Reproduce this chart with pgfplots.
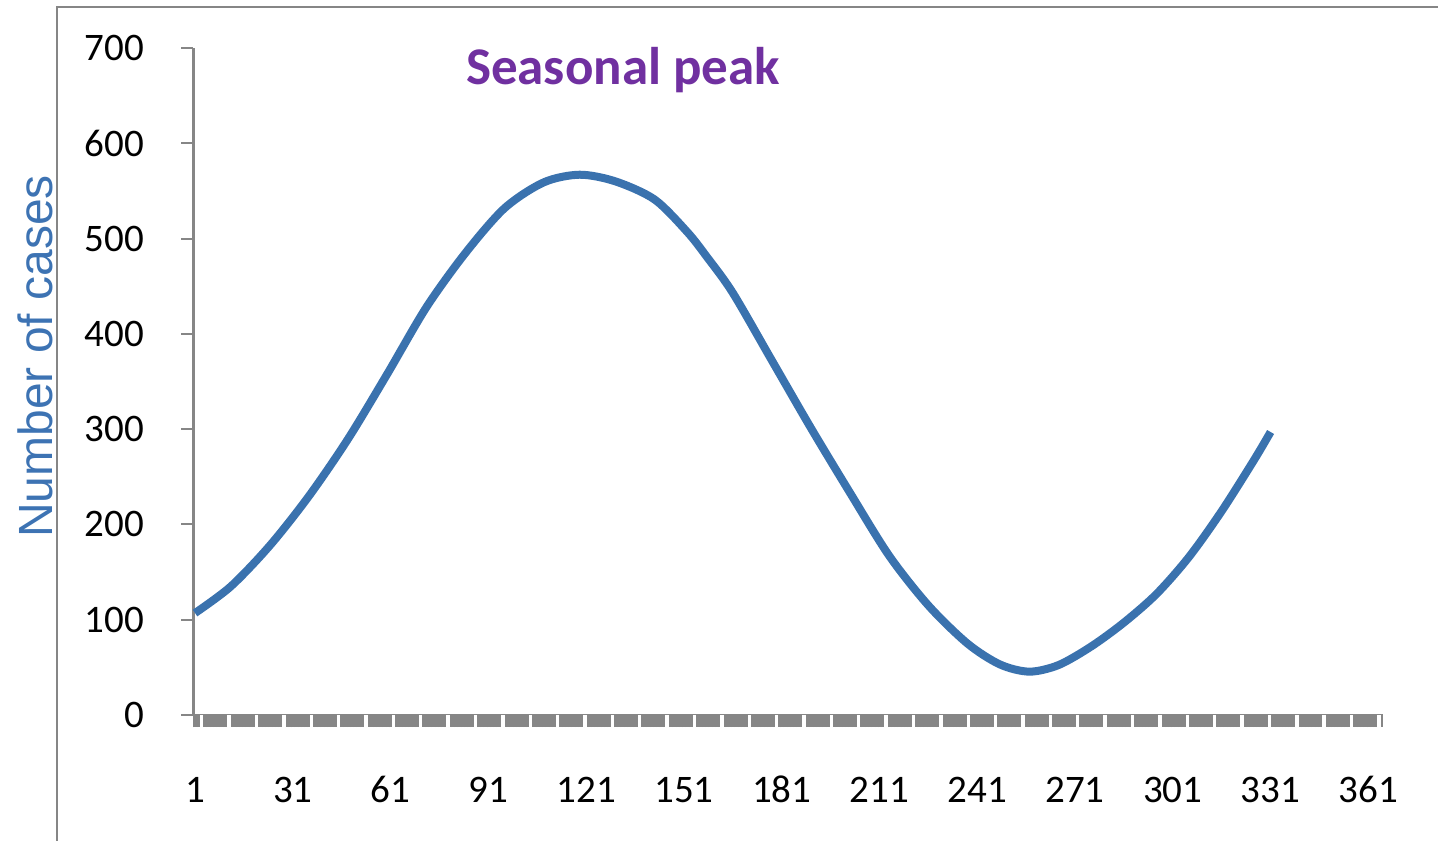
\documentclass[border=0pt]{standalone}
\usepackage{fontspec}
\setmainfont{Carlito}
\newfontfamily\arialfont{Liberation Sans}
\usepackage{pgfplots}
\pgfplotsset{compat=1.18}
\definecolor{lineblue}{HTML}{3A72AE}
\definecolor{labelblue}{HTML}{3D73B3}
\definecolor{peakpurple}{HTML}{7030A0}
\definecolor{axgray}{HTML}{868686}
\begin{document}
\begin{tikzpicture}[x=1pt,y=1pt]
\useasboundingbox (0,0) rectangle (719,420);
\draw[axgray, line width=1.35pt] (28.5,-5) -- (28.5,416.5) -- (730,416.5);
\begin{axis}[
  at={(96.7pt,62.5pt)}, anchor=south west,
  width=594.8pt, height=333.5pt, scale only axis,
  xmin=0.5, xmax=365.5, ymin=0, ymax=700,
  axis x line=bottom, axis y line=left,
  axis line style={axgray, line width=1.2pt, -},
  xtick={1,31,...,361},
  minor xtick={1,2,...,365},
  ytick={0,100,...,700},
  tick align=outside,
  major tick length=6pt,
  minor tick length=6pt,
  tick style={axgray, line width=1pt},
  every minor x tick/.append style={line width=1.7pt},
  every major x tick/.append style={line width=1.7pt},
  extra x ticks={3.05,11.45,...,365},
  extra x tick labels={},
  extra x tick style={tick style={white, line width=0.6pt}},
  /pgf/number format/assume math mode=true,
  xticklabel style={anchor=base, inner sep=0pt, yshift=-37.5pt, font=\fontsize{19.5}{19.5}\selectfont},
  yticklabel style={anchor=east, inner sep=0pt, xshift=-18.5pt, font=\fontsize{19.5}{19.5}\selectfont},
  clip=false,
]
\addplot[lineblue, line width=4pt, smooth, tension=0.5, line join=round] table {
x y
1 107
12 135
24 178
36 230
48 290
60 358
72 428
84 485
96 532
108 559
119 567
130 560
142 541
152 507
158 481
166 443
178 372
190 301
202 233
214 167
226 115
238 75
248 53
257 45.5
266 52.5
276 72
286 97
296 127
306 166
316 214
326 268
331 297
};
\end{axis}
\node[rotate=90, anchor=base, text=labelblue, font=\arialfont\fontsize{24}{24}\selectfont] at (26,241.75) {Number of cases};
\node[anchor=base, text=peakpurple, font=\bfseries\fontsize{26.5}{26.5}\selectfont] at (311.5,377.5) {Seasonal peak};
\end{tikzpicture}
\end{document}
